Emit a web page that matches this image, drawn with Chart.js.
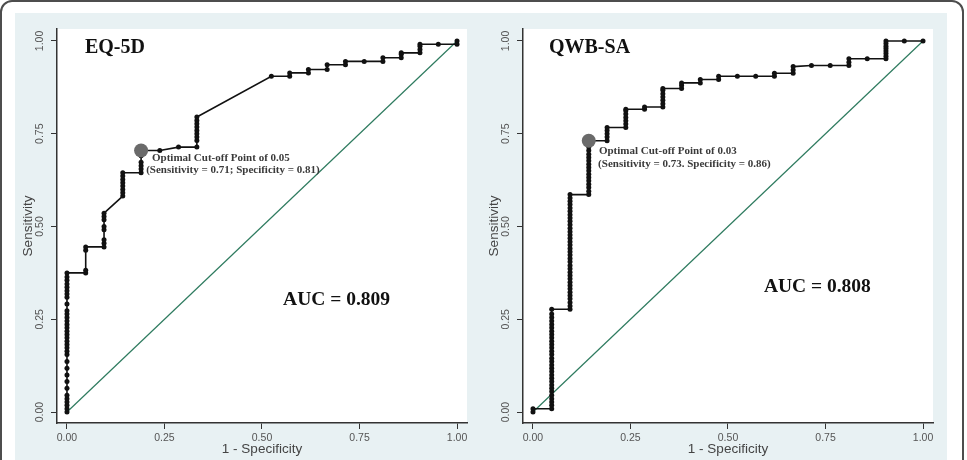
<!DOCTYPE html>
<html>
<head>
<meta charset="utf-8">
<script src="https://cdn.jsdelivr.net/npm/chart.js@4.4.0/dist/chart.umd.min.js"></script>
<style>
  html, body { margin: 0; padding: 0; background: #fff; overflow: hidden; }
  body { width: 967px; height: 460px; position: relative; }
  #frame { position: absolute; left: 0; top: 0; width: 964px; height: 490px; border: 2px solid #4d4d4d; border-radius: 12px; box-sizing: border-box; }
  #panelBg { position: absolute; left: 15px; top: 13px; width: 932px; height: 460px; background: #e8f1f3; }
  canvas { position: absolute; top: 13px; }
  #eqChart { left: 15px; }
  #qwbChart { left: 481px; }
</style>
</head>
<body>
<div id="frame"></div>
<div id="panelBg"></div>
<canvas id="eqChart" width="466" height="447"></canvas>
<canvas id="qwbChart" width="466" height="447"></canvas>
<script>
// axis ticks shared by both panels
const tickValues = [0, 0.25, 0.5, 0.75, 1];
const tickLabels = ['0.00', '0.25', '0.50', '0.75', '1.00'];
const refLine = [0, 1];

// EQ-5D: 1 - specificity at each step, and the sensitivities plotted at that step
const eqFpr = [0, 0.048, 0.095, 0.143, 0.19, 0.238, 0.286, 0.333, 0.524, 0.571, 0.619, 0.667, 0.714, 0.762, 0.81, 0.857, 0.905, 0.952, 1];
const eqSens = [
    [0, 0.009, 0.018, 0.027, 0.036, 0.045, 0.064, 0.082, 0.1, 0.118, 0.136, 0.155, 0.164, 0.173, 0.182, 0.191, 0.2, 0.209, 0.218, 0.227, 0.236, 0.245, 0.255, 0.264, 0.273, 0.291, 0.309, 0.318, 0.327, 0.336, 0.345, 0.355, 0.364, 0.375],
    [0.375, 0.382, 0.436, 0.445],
    [0.445, 0.455, 0.464, 0.491, 0.5, 0.518, 0.527, 0.536],
    [0.582, 0.591, 0.6, 0.609, 0.618, 0.627, 0.636, 0.645],
    [0.645, 0.655, 0.664, 0.673, 0.691, 0.705],
    [0.705],
    [0.714],
    [0.714, 0.732, 0.741, 0.75, 0.759, 0.768, 0.777, 0.786, 0.795],
    [0.905],
    [0.905, 0.914],
    [0.914, 0.923],
    [0.923, 0.936],
    [0.936, 0.945],
    [0.945],
    [0.945, 0.955],
    [0.955, 0.964, 0.968],
    [0.968, 0.977, 0.986, 0.991],
    [0.991],
    [0.991, 1]
];
const eqCutoff = [0.19, 0.705];

// QWB-SA
const qwbFpr = [0, 0.048, 0.095, 0.143, 0.19, 0.238, 0.286, 0.333, 0.381, 0.429, 0.476, 0.524, 0.571, 0.619, 0.667, 0.714, 0.762, 0.81, 0.857, 0.905, 0.952, 1];
const qwbSens = [
    [0, 0.009],
    [0.009, 0.018, 0.027, 0.036, 0.045, 0.055, 0.064, 0.073, 0.082, 0.091, 0.1, 0.109, 0.118, 0.127, 0.136, 0.145, 0.155, 0.164, 0.173, 0.182, 0.191, 0.2, 0.209, 0.218, 0.227, 0.236, 0.245, 0.255, 0.264, 0.277],
    [0.277, 0.286, 0.295, 0.305, 0.314, 0.323, 0.332, 0.341, 0.35, 0.359, 0.368, 0.377, 0.386, 0.395, 0.405, 0.414, 0.423, 0.432, 0.441, 0.45, 0.459, 0.468, 0.477, 0.486, 0.495, 0.505, 0.514, 0.523, 0.532, 0.541, 0.55, 0.559, 0.568, 0.577, 0.586],
    [0.586, 0.595, 0.605, 0.614, 0.623, 0.632, 0.641, 0.65, 0.659, 0.668, 0.677, 0.686, 0.695, 0.705, 0.714, 0.723, 0.731],
    [0.731, 0.741, 0.75, 0.759, 0.767],
    [0.767, 0.776, 0.785, 0.794, 0.803, 0.812, 0.816],
    [0.816, 0.822],
    [0.822, 0.831, 0.84, 0.849, 0.858, 0.867, 0.872],
    [0.872, 0.88, 0.887],
    [0.887, 0.896],
    [0.896, 0.905],
    [0.905],
    [0.905],
    [0.905, 0.913],
    [0.913, 0.922, 0.931],
    [0.934],
    [0.934],
    [0.934, 0.943, 0.952],
    [0.952],
    [0.952, 0.959, 0.966, 0.973, 0.98, 0.986, 0.993, 1],
    [1],
    [1]
];
const qwbCutoff = [0.143, 0.731];

// texts inside each panel
const eqTexts = ['EQ-5D', 'AUC = 0.809', 'Optimal Cut-off Point of 0.05', '(Sensitivity = 0.71; Specificity = 0.81)'];
const qwbTexts = ['QWB-SA', 'AUC = 0.808', 'Optimal Cut-off Point of 0.03', '(Sensitivity = 0.73. Specificity = 0.86)'];

const serif = "'Liberation Serif', 'Times New Roman', serif";
Chart.defaults.font.family = "'Liberation Sans', Arial, sans-serif";

// where each text goes, in data units
const eqTextPos = [[0.046, 0.981], [0.554, 0.302], [0.218, 0.685], [0.203, 0.652]];
const qwbTextPos = [[0.041, 0.981], [0.592, 0.337], [0.169, 0.704], [0.167, 0.668]];
const textFonts = ['bold 20px ' + serif, 'bold 19.5px ' + serif, 'bold 11px ' + serif, 'bold 11px ' + serif];
const textColors = ['#111', '#111', '#3a3a3a', '#3a3a3a'];

const plotBackground = {
    id: 'plotBackground',
    beforeDraw(chart) {
        const {ctx, chartArea} = chart;
        ctx.save();
        ctx.fillStyle = '#fff';
        ctx.fillRect(chartArea.left, chartArea.top, chartArea.right - chartArea.left, chartArea.bottom - chartArea.top);
        ctx.restore();
    }
};

const panelText = {
    id: 'panelText',
    afterDatasetsDraw(chart, args, opts) {
        const {ctx, scales: {x, y}} = chart;
        ctx.save();
        ctx.textBaseline = 'middle';
        ctx.textAlign = 'left';
        opts.texts.forEach((t, i) => {
            ctx.font = textFonts[i];
            ctx.fillStyle = textColors[i];
            ctx.fillText(t, x.getPixelForValue(opts.pos[i][0]), y.getPixelForValue(opts.pos[i][1]));
        });
        ctx.restore();
    }
};

function curvePoints(fpr, sens) {
    const pts = [];
    fpr.forEach((f, i) => {
        sens[i].forEach(s => pts.push({x: f, y: s}));
    });
    return pts;
}

function makeChart(id, fpr, sens, cutoff, texts, pos) {
    const ctx = document.getElementById(id).getContext('2d');
    return new Chart(ctx, {
        type: 'scatter',
        data: {
            datasets: [
                {
                    data: [{x: cutoff[0], y: cutoff[1]}],
                    pointRadius: 7,
                    pointBackgroundColor: '#6a6a6a',
                    pointBorderWidth: 0,
                    showLine: false
                },
                {
                    data: curvePoints(fpr, sens),
                    showLine: true,
                    borderColor: '#111',
                    borderWidth: 1.6,
                    pointRadius: 2.5,
                    pointBackgroundColor: '#111',
                    pointBorderWidth: 0,
                    tension: 0
                },
                {
                    data: refLine.map(v => ({x: v, y: v})),
                    showLine: true,
                    borderColor: '#2e7b5f',
                    borderWidth: 1.2,
                    pointRadius: 0
                }
            ]
        },
        options: {
            responsive: false,
            animation: false,
            devicePixelRatio: 1,
            layout: { padding: { top: 16, right: 14, left: 0, bottom: 0 } },
            plugins: {
                legend: { display: false },
                tooltip: { enabled: false },
                panelText: { texts: texts, pos: pos }
            },
            scales: {
                x: {
                    type: 'linear',
                    min: -0.0256,
                    max: 1.0256,
                    afterBuildTicks: s => { s.ticks = tickValues.map(v => ({value: v})); },
                    afterFit: s => { s.height = 37; },
                    border: { color: '#333', width: 1.5 },
                    grid: { drawOnChartArea: false, tickLength: 6, color: '#333' },
                    ticks: { callback: (v, i) => tickLabels[i], color: '#555', font: { size: 10.5 }, padding: 3, maxRotation: 0, autoSkip: false },
                    title: { display: true, text: '1 - Specificity', color: '#444', font: { size: 13.5 }, padding: { top: 0, bottom: 3 } }
                },
                y: {
                    type: 'linear',
                    min: -0.0296,
                    max: 1.0323,
                    afterBuildTicks: s => { s.ticks = tickValues.map(v => ({value: v})); },
                    afterFit: s => { s.width = 42; },
                    border: { color: '#333', width: 1.5 },
                    grid: { drawOnChartArea: false, tickLength: 6, color: '#333' },
                    ticks: { callback: (v, i) => tickLabels[i], color: '#555', font: { size: 10.5 }, padding: 1, minRotation: 90, maxRotation: 90, crossAlign: 'center', autoSkip: false },
                    title: { display: true, text: 'Sensitivity', color: '#444', font: { size: 13.5 }, padding: { top: 5, bottom: 0 } }
                }
            }
        },
        plugins: [plotBackground, panelText]
    });
}

makeChart('eqChart', eqFpr, eqSens, eqCutoff, eqTexts, eqTextPos);
makeChart('qwbChart', qwbFpr, qwbSens, qwbCutoff, qwbTexts, qwbTextPos);
</script>
</body>
</html>
